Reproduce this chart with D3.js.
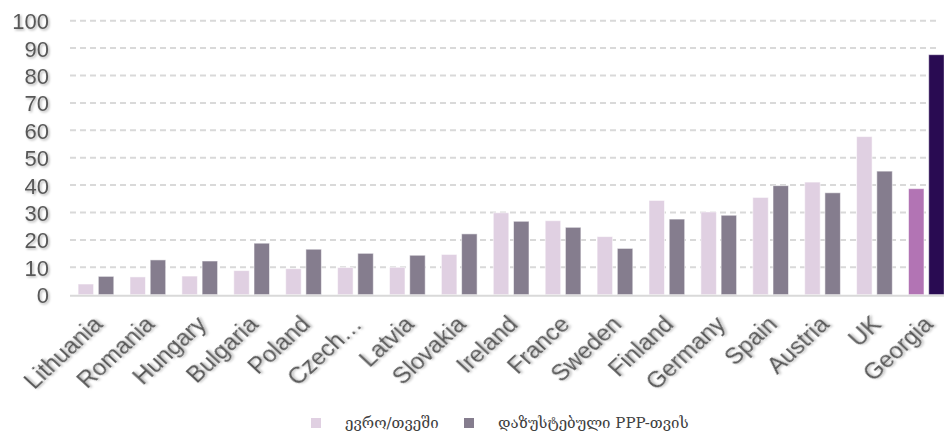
<!DOCTYPE html>
<html>
<head>
<meta charset="utf-8">
<script src="https://cdn.jsdelivr.net/npm/d3@7/dist/d3.min.js"></script>
<style>
  html, body { margin: 0; padding: 0; background: #fff; }
  svg { display: block; }
</style>
</head>
<body>
<svg id="chart" width="944" height="435"></svg>
<script>
// Countries on the x axis
const categories = ["Lithuania", "Romania", "Hungary", "Bulgaria", "Poland", "Czech…", "Latvia",
  "Slovakia", "Ireland", "France", "Sweden", "Finland", "Germany", "Spain", "Austria", "UK", "Georgia"];

// Series 1: euro per month
const euroPerMonth = [3.9, 6.5, 6.8, 8.8, 9.5, 9.9, 10.0, 14.7, 29.9, 27.0, 21.2, 34.4, 30.2, 35.5, 41.1, 57.7, 38.7];
// Series 2: PPP-adjusted
const pppAdjusted = [6.7, 12.7, 12.3, 18.8, 16.6, 15.1, 14.4, 22.2, 26.8, 24.6, 16.9, 27.6, 29.0, 39.8, 37.2, 45.1, 87.6];

const seriesNames = ["ევრო/თვეში", "დაზუსტებული PPP-თვის"];
const yTicks = [0, 10, 20, 30, 40, 50, 60, 70, 80, 90, 100];

const seriesColors = ["#e0d0e2", "#857d8e"];
const highlightColors = ["#b274b4", "#290b52"];
const highlightCategory = "Georgia";

const svg = d3.select("#chart");
const defs = svg.append("defs");
const shadow = defs.append("filter").attr("id", "txtShadow")
  .attr("x", "-20%").attr("y", "-20%").attr("width", "140%").attr("height", "140%");
shadow.append("feDropShadow").attr("dx", 1.4).attr("dy", 1.4)
  .attr("stdDeviation", 0.9).attr("flood-color", "#000").attr("flood-opacity", 0.3);

const left = 70, step = 51.9;
const x0 = d3.scaleBand().domain(categories)
  .range([left, left + step * categories.length])
  .paddingInner(0.312).paddingOuter(0.156);
const x1 = d3.scaleBand().domain([0, 1]).range([0, x0.bandwidth()]).paddingInner(0.233);
const y = d3.scaleLinear().domain([0, 100]).range([294.7, 20.7]);

// Gridlines
svg.append("g").selectAll("line").data(yTicks.filter(t => t > 0)).join("line")
  .attr("x1", left).attr("x2", 940)
  .attr("y1", d => y(d)).attr("y2", d => y(d))
  .attr("stroke", "#d9d9d9").attr("stroke-width", 2)
  .attr("stroke-dasharray", "6,4");

// Y axis labels
const yAxis = d3.axisLeft(y).tickValues(yTicks).tickSize(0).tickPadding(0);
const yg = svg.append("g").attr("transform", "translate(49,0)").call(yAxis);
yg.select(".domain").remove();
yg.selectAll("text")
  .attr("font-family", "Liberation Sans, Arial, sans-serif")
  .attr("font-size", 22).attr("fill", "#595959")
  .attr("dy", "0.36em")
  .attr("filter", "url(#txtShadow)");

// Bars
const rows = categories.map((c, i) => ({ c, vals: [euroPerMonth[i], pppAdjusted[i]] }));
const groups = svg.append("g").selectAll("g").data(rows).join("g")
  .attr("transform", d => `translate(${x0(d.c)},0)`);
groups.selectAll("rect").data(d => d.vals.map((v, k) => ({ v, k, c: d.c }))).join("rect")
  .attr("x", d => x1(d.k))
  .attr("width", x1.bandwidth())
  .attr("y", d => y(d.v))
  .attr("height", d => y(0) - y(d.v))
  .attr("fill", d => d.c === highlightCategory ? highlightColors[d.k] : seriesColors[d.k])
  .attr("stroke", "#ffffff").attr("stroke-opacity", 0.55).attr("stroke-width", 1);

// Baseline
svg.append("line").attr("x1", left).attr("x2", 944)
  .attr("y1", y(0) + 1).attr("y2", y(0) + 1)
  .attr("stroke", "#d9d9d9").attr("stroke-width", 2);

// X axis labels, rotated
const xAxis = d3.axisBottom(x0).tickSize(0).tickPadding(0);
const xg = svg.append("g").attr("transform", `translate(0,${y(0)})`).call(xAxis);
xg.select(".domain").remove();
xg.selectAll("text")
  .attr("font-family", "Liberation Sans, Arial, sans-serif")
  .attr("font-size", 22.5).attr("fill", "#595959")
  .attr("text-anchor", "end")
  .attr("x", 0).attr("y", 0).attr("dy", 0)
  .attr("transform", "translate(8,31) scale(1.08,1) rotate(-45)")
  .attr("filter", "url(#txtShadow)");

// Legend
const legendX = [311, 464];
const legend = svg.append("g").selectAll("g").data(seriesNames).join("g")
  .attr("transform", (d, i) => `translate(${legendX[i]},418)`);
legend.append("rect").attr("width", 10).attr("height", 10)
  .attr("fill", (d, i) => seriesColors[i]);
legend.append("text").attr("x", 34).attr("y", 10)
  .attr("font-family", "DejaVu Serif, DejaVu Sans, serif")
  .attr("font-size", 15).attr("fill", "#404040")
  .text(d => d);
</script>
</body>
</html>
